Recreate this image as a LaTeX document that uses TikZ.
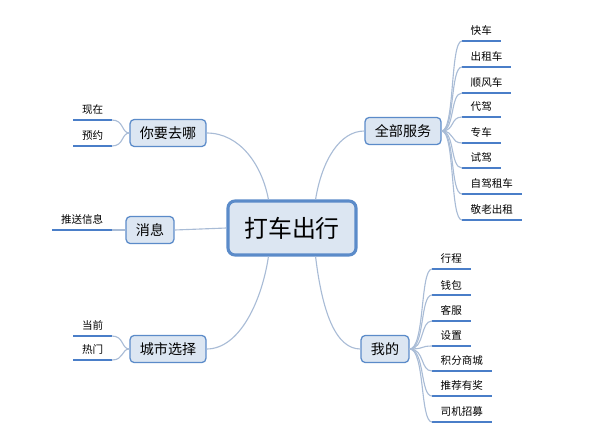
\documentclass[tikz,border=0pt]{standalone}
\usepackage{fontspec}
\newfontfamily\cjk{Noto Sans CJK SC}
\usepackage{xcolor}
\usetikzlibrary{calc}
\definecolor{boxfill}{HTML}{DCE6F2}
\definecolor{boxline}{HTML}{5B8BC9}
\definecolor{linkc}{HTML}{A9BCD6}
\definecolor{ulc}{HTML}{4A7EC8}
\begin{document}
\begin{tikzpicture}[x=0.025cm,y=-0.025cm]
\tikzstyle{every node}+=[font=\cjk]
\tikzstyle{root}=[draw=boxline,fill=boxfill,line width=2.2pt,rounded corners=5pt,minimum width=3.2cm,minimum height=1.35cm,font=\cjk\fontsize{17}{20}\selectfont]
\tikzstyle{branch}=[draw=boxline,fill=boxfill,line width=0.9pt,rounded corners=3pt,font=\cjk\fontsize{10}{12}\selectfont,inner xsep=7pt,inner ysep=5pt]
\tikzstyle{leaf}=[font=\cjk\fontsize{7.5}{9}\selectfont,inner xsep=6pt,inner ysep=3.5pt]
\tikzstyle{link}=[draw=linkc,line width=0.8pt]
\tikzstyle{uline}=[draw=ulc,line width=1.3pt]
\useasboundingbox (0,0) rectangle (600,436);
% centre and branches
\node[root] (top) at (292,228) {打车出行};
\node[branch] (go) at (168,133) {你要去哪};
\node[branch] (msg) at (150,230) {消息};
\node[branch] (city) at (168,349) {城市选择};
\node[branch] (all) at (403,131) {全部服务};
\node[branch] (me) at (385,349) {我的};
\draw[link] ($(top.north west)+(42,0)$) .. controls (262,165) and (240,133) .. (go.east);
\draw[link] (top.west) -- (msg.east);
\draw[link] ($(top.south west)+(42,0)$) .. controls (262,300) and (240,349) .. (city.east);
\draw[link] ($(top.north east)+(-42,0)$) .. controls (322,160) and (340,131) .. (all.west);
\draw[link] ($(top.south east)+(-42,0)$) .. controls (322,310) and (335,349) .. (me.west);
% left leaves
\foreach \name/\txt/\y/\b in {now/现在/120/go, book/预约/146/go, push/推送信息/230/msg, cur/当前/336/city, hot/热门/360/city}{
  \node[leaf,anchor=south east] (\name) at (112,\y) {\txt};
  \draw[uline] (\name.south west) -- (\name.south east);
  \draw[link] (\name.south east) .. controls ($(\name.south east)+(12,0)$) and ($(\b.west)+(-8,0)$) .. (\b.west);
}
% right leaves
\foreach \name/\txt/\y in {s1/快车/41, s2/出租车/67, s3/顺风车/93, s4/代驾/117, s5/专车/143, s6/试驾/168, s7/自驾租车/194, s8/敬老出租/220}{
  \node[leaf,anchor=south west] (\name) at (462,\y) {\txt};
  \draw[uline] (\name.south west) -- (\name.south east);
  \draw[link] (all.east) .. controls (455,131) and (450,\y) .. (\name.south west);
}
\foreach \name/\txt/\y in {m1/行程/269, m2/钱包/295, m3/客服/321, m4/设置/346, m5/积分商城/371, m6/推荐有奖/396, m7/司机招募/422}{
  \node[leaf,anchor=south west] (\name) at (432,\y) {\txt};
  \draw[uline] (\name.south west) -- (\name.south east);
  \draw[link] (me.east) .. controls (425,349) and (420,\y) .. (\name.south west);
}
\end{tikzpicture}
\end{document}
